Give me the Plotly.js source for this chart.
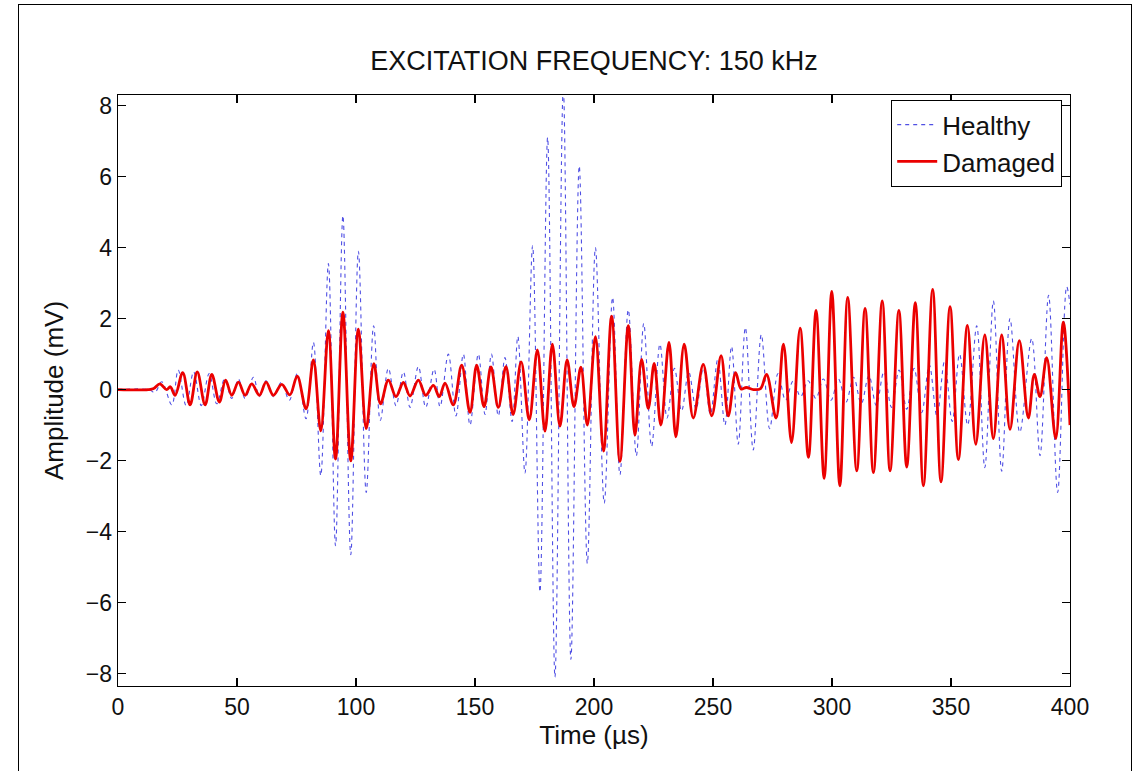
<!DOCTYPE html>
<html>
<head>
<meta charset="utf-8">
<script src="https://cdn.plot.ly/plotly-3.0.1.min.js"></script>
<style>
  html, body { margin: 0; padding: 0; background: #fff; }
  #wrap { position: relative; width: 1137px; height: 771px; }
  #chart { width: 1137px; height: 771px; }
  #frame { position: absolute; left: 18px; top: 4px; width: 1112px; height: 780px;
           border-left: 1px solid #000; border-top: 1px solid #000; border-right: 1px solid #000;
           pointer-events: none; }
</style>
</head>
<body>
<div id="wrap">
  <div id="chart"></div>
  <div id="frame"></div>
</div>
<script>
// ---- Data (extrema of each waveform) ----
const healthyT = [0, 13, 15.5, 18.4, 22.6, 25.3, 28.6, 31.8, 35, 38.3, 41.5, 44.8, 47.8, 50.6, 53.4, 56.9, 59.4, 62.2, 65.3, 68.6, 72, 75.3,
  79, 82.1, 85.2, 88.4, 91.4, 94.5, 97.8, 101, 104.3, 107.4, 110.2, 113.6, 116.8, 119.9, 122.7, 126.2, 129.3, 132.8, 135.3,
  138.8, 142, 145.1, 147.9, 151.4, 154.2, 156.9, 159.8, 162.6, 165.6, 168, 171, 174.2, 177.3, 180.5, 183.6, 187.1, 190.3, 193.8, 197.2,
  200.6, 204.3, 207.8, 210.9, 214.4, 217.8, 220.9, 224.2, 227.7, 230.7, 233.8, 236.8, 239.8, 242.9, 245.9, 248.9, 252, 255,
  257.8, 260.6, 263.6, 266.9, 270.3, 273.8, 277.3, 280.5, 283.7, 286.8, 290, 293.2, 296.4, 299.6, 302.7, 305.9, 309.1, 312.3,
  315.5, 318.6, 321.8, 325, 328.2, 331.4, 334.5, 337.7, 340.9, 344.1, 347.3, 350.5, 353.6, 357, 360.8, 364.2, 367.8, 371.3,
  374.8, 378.9, 383.9, 387.4, 391, 394.8, 398.6, 400];
const healthyV = [0, 0, -0.08, 0.22, -0.43, 0.55, -0.45, 0.5, -0.45, 0.45, -0.4, 0.3, -0.25, 0.3, -0.25, 0.35, -0.2, 0.25, -0.2, 0.2, -0.3, 0.45,
  -0.82, 1.33, -2.42, 3.55, -4.4, 4.9, -4.65, 3.9, -2.9, 1.8, -0.87, 0.6, -0.45, 0.5, -0.5, 0.65, -0.5, 0.58, -0.48,
  1.0, -0.74, 1.0, -1.0, 1.0, -0.7, 1.0, -0.74, 0.9, -0.9, 1.5, -2.35, 4.05, -5.7, 7.1, -8.1, 8.5, -7.6, 6.3, -4.9,
  4.0, -3.2, 2.6, -2.4, 2.25, -1.86, 1.86, -1.6, 1.28, -0.8, 0.6, -0.6, 0.5, -0.55, 0.6, -0.7, 0.85, -1.0,
  1.22, -1.54, 1.75, -1.7, 1.55, -1.1, 0.45, -0.3, 0.25, -0.2, 0.25, -0.25, 0.3, -0.3, 0.3, -0.35, 0.35, -0.4,
  0.4, -0.45, 0.5, -0.5, 0.55, -0.55, 0.6, -0.65, 0.7, -0.75, 0.8, -0.9, 1.0, -1.0, 1.8, -2.2, 2.5, -2.3,
  2.0, -1.2, 1.44, -1.86, 2.66, -2.9, 2.9, 2.4];

const damagedT = [0, 12.7, 15, 17.6, 20.4, 22, 24, 27.2, 30.3, 33.3, 36.6, 39.4, 42.6, 45.2, 47.8, 50.6, 53.4, 56.2, 59.4, 62.2, 65.3,
  68.8, 72.2, 75.3, 79, 82.1, 85.2, 88.4, 91.4, 94.5, 97.8, 101, 104.3, 107.5, 110.3, 113.6, 116.8, 119.9, 122.7, 126.2, 129.3,
  132.5, 135, 137.4, 140.9, 144.4, 147.9, 150.7, 153.8, 156.7, 159.8, 163, 166, 169.4, 172.8, 176.2, 179.4, 182.5, 185.7,
  188.7, 191.6, 194.5, 197.2, 200.6, 204, 207.4, 210.9, 214.4, 217.2, 220, 222.8, 225.3, 228.1, 231.5, 234.4, 237.9, 241.7,
  245.9, 249.5, 253.4, 256.4, 259.5, 261.8, 264, 267, 270, 272.5, 276.5, 279.6, 283, 286.6, 290.1, 293.3, 296.7, 299.9,
  303.3, 306.6, 310.4, 313.9, 317.4, 321.1, 324.4, 328.1, 331.4, 335, 338.4, 342.3, 345.8, 349.6, 353.1, 356.9, 360.4,
  364.2, 367.8, 371.3, 374.8, 378.7, 382.5, 385, 387.4, 390.2, 394, 397.2, 400];
const damagedV = [0, 0, 0.03, 0.16, 0, 0.08, -0.16, 0.48, -0.43, 0.5, -0.43, 0.43, -0.35, 0.27, -0.16, 0.21, -0.16, 0.16, -0.16, 0.21, -0.16,
  0.15, -0.15, 0.38, -0.54, 0.84, -1.16, 1.66, -1.96, 2.18, -2.01, 1.7, -1.1, 0.73, -0.4, 0.27, -0.2, 0.2, -0.18, 0.27, -0.16,
  0.12, -0.2, 0.18, -0.43, 0.69, -0.64, 0.69, -0.48, 0.64, -0.5, 0.65, -0.7, 0.78, -0.85, 1.12, -1.17, 1.28, -1.03,
  0.84, -0.48, 0.63, -1.0, 1.49, -1.73, 2.07, -2.02, 1.8, -1.28, 0.85, -0.53, 0.74, -1.0, 1.33, -1.33, 1.28, -0.8,
  0.71, -0.74, 0.96, -0.74, 0.48, 0.02, 0.06, 0, 0.03, 0.43, -0.8, 1.28, -1.49, 1.73, -1.91, 2.23, -2.5, 2.77,
  -2.71, 2.6, -2.29, 2.29, -2.34, 2.5, -2.29, 2.23, -2.18, 2.45, -2.71, 2.82, -2.6, 2.34, -1.97, 1.81, -1.54,
  1.54, -1.38, 1.54, -1.12, 1.38, -0.8, 0.43, -0.2, 0.9, -1.38, 1.9, -1.0];

const xTicks = [0, 50, 100, 150, 200, 250, 300, 350, 400];
const yTicks = [-8, -6, -4, -2, 0, 2, 4, 6, 8];

const FONT = 'Arial, "Liberation Sans", sans-serif';

const traces = [
  {
    x: healthyT, y: healthyV, name: 'Healthy', type: 'scatter', mode: 'lines',
    line: { color: 'rgb(80,80,228)', width: 1.1, dash: '4px,4px', shape: 'spline', smoothing: 1.0 }
  },
  {
    x: damagedT, y: damagedV, name: 'Damaged', type: 'scatter', mode: 'lines',
    line: { color: 'rgb(235,0,0)', width: 2.8, shape: 'spline', smoothing: 1.0 }
  }
];

const axisCommon = {
  showline: true, linecolor: '#000', linewidth: 1.3, mirror: 'ticks',
  ticks: 'inside', ticklen: 8, tickwidth: 1.2, tickcolor: '#000',
  showgrid: false, zeroline: false,
  tickfont: { family: FONT, size: 23, color: '#111' }
};

const layout = {
  width: 1137, height: 771,
  paper_bgcolor: '#fff', plot_bgcolor: '#fff',
  margin: { l: 118, r: 67, t: 95, b: 85 },
  title: {
    text: 'EXCITATION FREQUENCY: 150 kHz',
    font: { family: FONT, size: 27, color: '#111' },
    x: 0.5, xref: 'paper', xanchor: 'center',
    y: 0.922, yref: 'container', yanchor: 'middle'
  },
  xaxis: Object.assign({}, axisCommon, {
    range: [0, 400], tickvals: xTicks, ticktext: xTicks.map(String),
    title: { text: 'Time (µs)', font: { family: FONT, size: 26, color: '#111' }, standoff: 4 }
  }),
  yaxis: Object.assign({}, axisCommon, {
    range: [-8.35, 8.3], tickvals: yTicks, ticktext: yTicks.map(v => v < 0 ? '\u2212' + Math.abs(v) : String(v)),
    title: { text: 'Amplitude (mV)', font: { family: FONT, size: 26, color: '#111' }, standoff: 14 }
  }),
  legend: {
    x: 0.9916, xanchor: 'right', y: 0.9915, yanchor: 'top',
    bgcolor: '#fff', bordercolor: '#000', borderwidth: 1.2,
    font: { family: FONT, size: 26, color: '#111' },
    tracegroupgap: 0, itemwidth: 40
  },
  showlegend: true
};

Plotly.newPlot('chart', traces, layout, { displayModeBar: false, staticPlot: true });
</script>
</body>
</html>
